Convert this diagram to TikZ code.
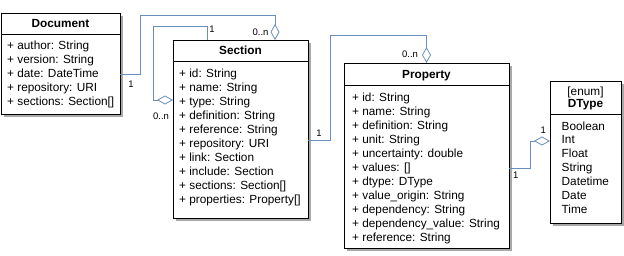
\documentclass[tikz,border=0pt]{standalone}
\usepackage{fontspec}
\setmainfont{Liberation Sans}
\usetikzlibrary{arrows.meta,shadows}
\definecolor{assocblue}{HTML}{6C8EBF}
\definecolor{shadowgray}{HTML}{A8A8A8}
\tikzset{
  x=1pt, y=-1pt,
  classbox/.style={draw=black, line width=0.8pt, fill=white, anchor=north west,
    inner sep=0pt, outer sep=0pt,
    drop shadow={shadow xshift=3pt, shadow yshift=-3pt, fill=shadowgray, opacity=1}},
  attr/.style={anchor=base west, inner sep=0pt, font=\fontsize{11.8}{14}\selectfont},
  title/.style={anchor=base, inner sep=0pt, font=\fontsize{11.8}{14}\selectfont\bfseries},
  stereo/.style={anchor=base, inner sep=0pt, font=\fontsize{11.8}{14}\selectfont},
  mult/.style={inner sep=0pt, font=\fontsize{9.5}{11}\selectfont},
  assoc/.style={draw=assocblue, line width=0.8pt,
    -{Diamond[open, length=16pt, width=9pt, line width=0.8pt]}},
}
\begin{document}
\begin{tikzpicture}
\useasboundingbox (0,0) rectangle (624,255);

% ---- Document ----
\node[classbox, minimum width=119pt, minimum height=101pt] (doc) at (1,13) {};
\draw[line width=0.8pt] (1,34) -- (120,34);
\node[title] (doc-title) at (60.5,27.6) {Document};
\foreach \t [count=\i from 0] in {+ author: String, + version: String,
    + date: DateTime, + repository: URI, + sections: Section[]}
  \node[attr] (doc-\i) at (7,{49.3+14*\i}) {\t};

% ---- Section ----
\node[classbox, minimum width=135pt, minimum height=178pt] (sec) at (173,40) {};
\draw[line width=0.8pt] (173,61) -- (308,61);
\node[title] (sec-title) at (240.5,54.5) {Section};
\foreach \t [count=\i from 0] in {+ id: String, + name: String, + type: String,
    + definition: String, + reference: String, + repository: URI,
    + link: Section, + include: Section, + sections: Section[],
    + properties: Property[]}
  \node[attr] (sec-\i) at (179,{77+14*\i}) {\t};

% ---- Property ----
\node[classbox, minimum width=165pt, minimum height=185pt] (prop) at (344,63) {};
\draw[line width=0.8pt] (344,85) -- (509,85);
\node[title] (prop-title) at (426.5,78.3) {Property};
\foreach \t [count=\i from 0] in {+ id: String, + name: String,
    + definition: String, + unit: String, + uncertainty: double,
    + values: [], + dtype: DType, + value\_origin: String,
    + dependency: String, + dependency\_value: String, + reference: String}
  \node[attr] (prop-\i) at (352,{101+14*\i}) {\t};

% ---- DType enumeration ----
\node[classbox, minimum width=71pt, minimum height=142pt] (dtype) at (550,81) {};
\draw[line width=0.8pt] (550,114) -- (621,114);
\node[stereo] (dtype-stereo) at (585.5,95.5) {[enum]};
\node[title] (dtype-title) at (585.5,107.6) {DType};
\foreach \t [count=\i from 0] in {Boolean, Int, Float, String, Datetime, Date, Time}
  \node[attr] (dtype-\i) at (561.5,{130+13.9*\i}) {\t};

% ---- associations ----
\draw[assoc] ([yshift=-10.5pt]doc.east) -| (140,15) -| ([xshift=34.5pt]sec.north);
\draw[assoc] ([xshift=-33.5pt]sec.north) |- (153,26) |- ([yshift=29pt]sec.west);
\draw[assoc] ([yshift=-11pt]sec.east) -| (330,35) -| (prop.north);
\draw[assoc] ([yshift=-12.5pt]prop.east) -| (530,141) -- ([yshift=11pt]dtype.west);

% ---- multiplicities ----
\node[mult] (m1) at (131,84) {1};
\node[mult] (m2) at (260.5,32.3) {0..n};
\node[mult] (m3) at (212,29.3) {1};
\node[mult] (m4) at (161,116.7) {0..n};
\node[mult] (m5) at (319,133.3) {1};
\node[mult] (m6) at (410,54) {0..n};
\node[mult] (m7) at (515.7,175) {1};
\node[mult] (m8) at (543.3,130) {1};
\end{tikzpicture}
\end{document}
